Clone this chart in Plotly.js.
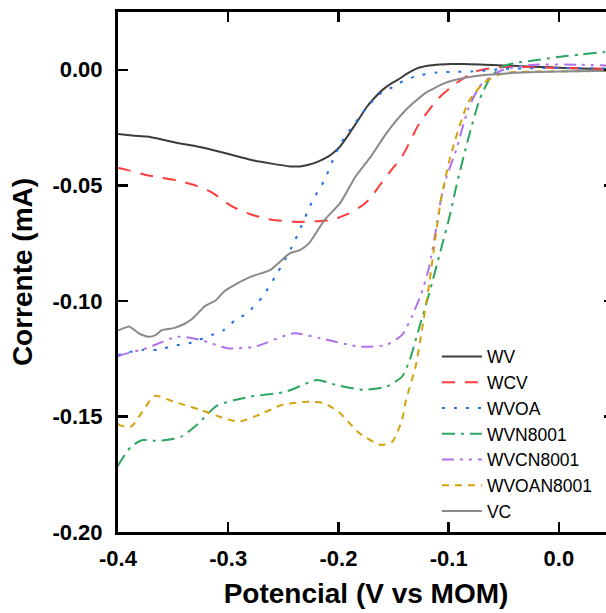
<!DOCTYPE html>
<html>
<head>
<meta charset="utf-8">
<script src="https://cdn.plot.ly/plotly-3.0.1.min.js"></script>
<style>
html,body{margin:0;padding:0;overflow:hidden;background:#fff;}
#chart{width:620px;height:613px;}
</style>
</head>
<body>
<div id="chart"></div>
<script>
// ---- data ----
const seriesNames = ["WV","WCV","WVOA","WVN8001","WVCN8001","WVOAN8001","VC"];

const wvX = [-0.400,-0.385,-0.374,-0.360,-0.346,-0.330,-0.315,-0.297,-0.279,-0.262,-0.244,-0.235,-0.227,-0.218,-0.209,-0.2035,-0.1985,-0.193,-0.188,-0.181,-0.174,-0.167,-0.160,-0.153,-0.146,-0.137,-0.128,-0.119,-0.111,-0.098,-0.086,-0.068,-0.051,-0.033,-0.016,0.000,0.020,0.050];
const wvY = [-0.0278,-0.0285,-0.0289,-0.0302,-0.0317,-0.0330,-0.0346,-0.0368,-0.0390,-0.0405,-0.0418,-0.0418,-0.0411,-0.0396,-0.0375,-0.0355,-0.0332,-0.0296,-0.0260,-0.0210,-0.0159,-0.0120,-0.0087,-0.0062,-0.0043,-0.0015,0.0007,0.0017,0.0022,0.0025,0.0025,0.0022,0.0019,0.0015,0.0012,0.0009,0.0005,0.0003];

const wcvX = [-0.400,-0.392,-0.375,-0.360,-0.345,-0.330,-0.315,-0.297,-0.280,-0.265,-0.2547,-0.240,-0.2266,-0.2155,-0.2055,-0.192,-0.1774,-0.170,-0.1634,-0.153,-0.1423,-0.135,-0.1282,-0.1106,-0.0931,-0.0755,-0.0615,-0.050,-0.030,0.000,0.050];
const wcvY = [-0.0425,-0.0433,-0.0455,-0.0468,-0.0480,-0.0500,-0.0530,-0.0590,-0.0625,-0.0645,-0.0652,-0.0658,-0.0657,-0.0654,-0.0649,-0.0625,-0.0584,-0.0550,-0.0505,-0.0440,-0.0375,-0.0310,-0.0245,-0.0130,-0.0058,-0.0007,0.0007,0.0012,0.0012,0.0008,0.0004];

const wvoaX = [-0.400,-0.3953,-0.3777,-0.3636,-0.350,-0.3355,-0.3145,-0.3039,-0.2934,-0.2828,-0.2687,-0.2547,-0.2477,-0.2406,-0.2231,-0.2125,-0.2037,-0.198,-0.190,-0.181,-0.174,-0.167,-0.160,-0.1493,-0.140,-0.1282,-0.1106,-0.095,-0.079,-0.065,-0.050,0.000,0.050];
const wvoaY = [-0.1235,-0.1227,-0.1212,-0.1212,-0.1195,-0.1183,-0.1147,-0.1126,-0.1082,-0.1053,-0.0981,-0.0873,-0.0815,-0.0750,-0.0563,-0.0476,-0.0375,-0.0320,-0.0262,-0.0205,-0.0160,-0.0125,-0.0095,-0.0072,-0.0045,-0.0026,-0.0012,-0.0009,-0.0007,-0.0003,0.0004,0.0008,0.0005];

const wvnX = [-0.400,-0.3988,-0.3883,-0.3777,-0.367,-0.3566,-0.3426,-0.3285,-0.3109,-0.295,-0.2793,-0.2477,-0.2195,-0.202,-0.1774,-0.1564,-0.1423,-0.1353,-0.1282,-0.1176,-0.1071,-0.0984,-0.0931,-0.0825,-0.072,-0.0615,-0.0509,-0.0404,-0.020,0.000,0.020,0.040,0.050];
const wvnY = [-0.1715,-0.1703,-0.1631,-0.1602,-0.1605,-0.1602,-0.1587,-0.1537,-0.1455,-0.1430,-0.1414,-0.1393,-0.1342,-0.1364,-0.1385,-0.1371,-0.1328,-0.1255,-0.1140,-0.0967,-0.0779,-0.0620,-0.0505,-0.0303,-0.0130,-0.0029,0.0014,0.0029,0.0042,0.0056,0.0066,0.0076,0.0079];

const wvcnX = [-0.400,-0.397,-0.3742,-0.3461,-0.325,-0.3004,-0.2758,-0.2406,-0.2161,-0.1809,-0.1564,-0.1423,-0.1334,-0.1247,-0.1176,-0.1106,-0.1071,-0.1018,-0.0931,-0.0825,-0.072,-0.0615,-0.0509,-0.0228,0.017,0.050];
const wvcnY = [-0.1240,-0.1234,-0.1205,-0.1155,-0.1169,-0.1205,-0.1198,-0.1140,-0.1162,-0.1198,-0.1190,-0.1147,-0.1068,-0.0967,-0.0851,-0.0664,-0.0563,-0.0462,-0.0346,-0.0173,-0.0072,-0.0029,0.0000,0.0022,0.0022,0.0018];

const wvoanX = [-0.400,-0.3988,-0.3883,-0.378,-0.3668,-0.3495,-0.325,-0.3039,-0.2898,-0.2687,-0.2512,-0.2266,-0.2125,-0.1985,-0.1809,-0.1616,-0.1511,-0.1423,-0.1387,-0.130,-0.1247,-0.1176,-0.1106,-0.107,-0.0984,-0.0825,-0.0685,-0.0545,-0.040,0.000,0.050];
const wvoanY = [-0.1530,-0.1537,-0.1544,-0.1480,-0.1411,-0.1436,-0.1472,-0.1508,-0.1522,-0.1486,-0.1450,-0.1436,-0.1443,-0.1486,-0.1573,-0.1623,-0.1609,-0.1515,-0.1429,-0.1284,-0.1140,-0.0923,-0.0678,-0.0563,-0.0375,-0.0144,-0.0058,-0.0022,-0.0010,-0.0007,-0.0005];

const vcX = [-0.400,-0.3988,-0.390,-0.3812,-0.3725,-0.366,-0.3601,-0.3495,-0.340,-0.332,-0.3215,-0.3109,-0.304,-0.2969,-0.2793,-0.2617,-0.2442,-0.235,-0.2266,-0.2125,-0.1985,-0.1845,-0.1705,-0.1564,-0.1387,-0.1212,-0.1036,-0.086,-0.065,-0.0334,0.000,0.050];
const vcY = [-0.1126,-0.1126,-0.1111,-0.1140,-0.1155,-0.1148,-0.1126,-0.1118,-0.1100,-0.1075,-0.1024,-0.0996,-0.0960,-0.0938,-0.0895,-0.0866,-0.0794,-0.0780,-0.0750,-0.0649,-0.0577,-0.0462,-0.0375,-0.0274,-0.0173,-0.0101,-0.0058,-0.0036,-0.0022,-0.0012,-0.0007,-0.0004];

const xTickVals = [-0.4,-0.3,-0.2,-0.1,0.0];
const xTickText = ["-0.4","-0.3","-0.2","-0.1","0.0"];
const yTickVals = [0.00,-0.05,-0.10,-0.15,-0.20];
const yTickText = ["0.00","-0.05","-0.10","-0.15","-0.20"];

// ---- styles ----
const styles = [
  {color:'#3c3c3c', dash:'solid'},
  {color:'#ff3b3b', dash:'13px,10px'},
  {color:'#1f6fe5', dash:'3px,9px'},
  {color:'#2ca65f', dash:'13px,6px,3px,6px'},
  {color:'#b070ee', dash:'12px,6px,3px,6px,3px,6px'},
  {color:'#d4a20a', dash:'7px,6px'},
  {color:'#8a8a8a', dash:'solid'}
];
const xs = [wvX,wcvX,wvoaX,wvnX,wvcnX,wvoanX,vcX];
const ys = [wvY,wcvY,wvoaY,wvnY,wvcnY,wvoanY,vcY];

const traces = seriesNames.map((n,i)=>({
  type:'scatter', mode:'lines', name:n, x:xs[i], y:ys[i],
  line:{color:styles[i].color, dash:styles[i].dash, width:2, shape:'spline', smoothing:0.6}
}));

const fontFam = '"Liberation Sans", Arial, sans-serif';
const layout = {
  width:620, height:613,
  margin:{l:118, r:6, t:12, b:81},
  paper_bgcolor:'#fff', plot_bgcolor:'#fff',
  showlegend:true,
  legend:{x:0.643, y:0.372, xanchor:'left', yanchor:'top', bgcolor:'rgba(0,0,0,0)',
          font:{family:fontFam, size:17.5, color:'#000'}, itemwidth:40, tracegroupgap:0},
  xaxis:{range:[-0.4,0.05], tickvals:xTickVals, ticktext:xTickText,
         showline:true, linewidth:3, linecolor:'#000', mirror:'ticks',
         ticks:'inside', ticklen:10, tickwidth:2.5, tickcolor:'#000',
         showgrid:false, zeroline:false, ticklabelstandoff:5,
         tickfont:{family:fontFam, size:22, color:'#000', weight:'bold'},
         title:{text:'Potencial (V vs MOM)', standoff:13, font:{family:fontFam, size:28, color:'#000', weight:'bold'}}},
  yaxis:{range:[-0.2,0.025], tickvals:yTickVals, ticktext:yTickText,
         showline:true, linewidth:3, linecolor:'#000', mirror:'ticks',
         ticks:'inside', ticklen:10, tickwidth:2.5, tickcolor:'#000',
         showgrid:false, zeroline:false, ticklabelstandoff:8,
         tickfont:{family:fontFam, size:22, color:'#000', weight:'bold'},
         title:{text:'Corrente (mA)', standoff:12, font:{family:fontFam, size:28, color:'#000', weight:'bold'}}}
};
Plotly.newPlot('chart', traces, layout, {displayModeBar:false, staticPlot:true});
</script>
</body>
</html>
